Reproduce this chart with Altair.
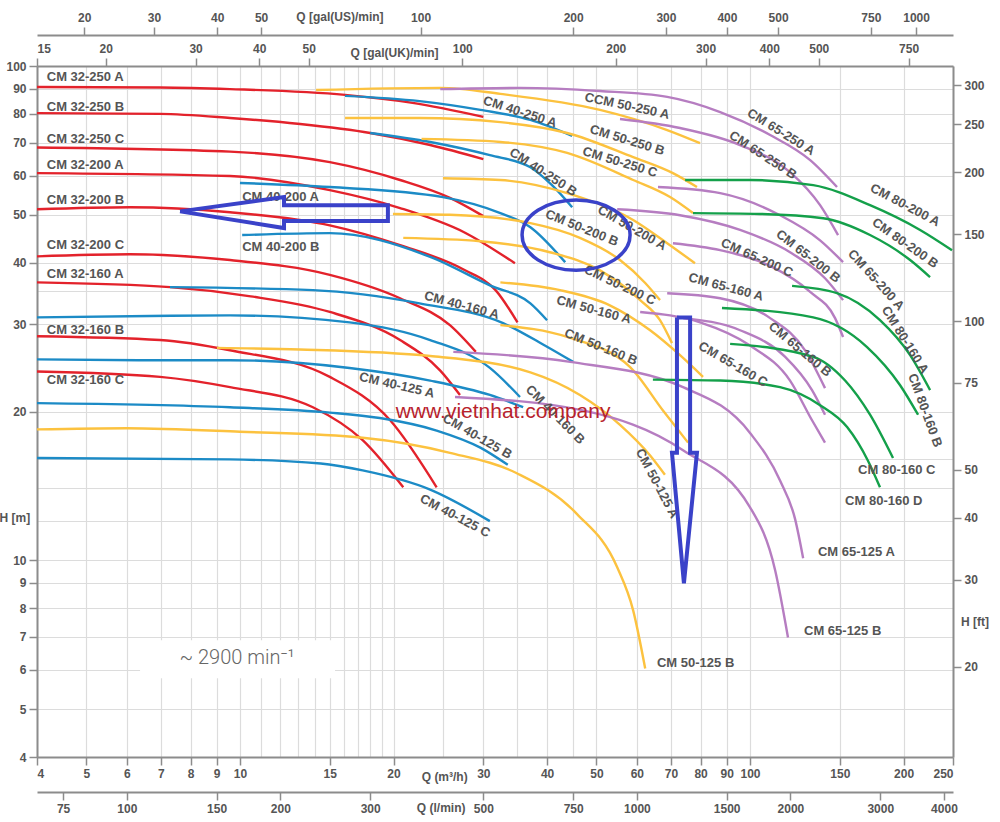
import altair as alt
import pandas as pd

# ---------------- colours ----------------
RED = "#e3222b"; BLUE = "#1c8bc6"; YELLOW = "#fcc23f"; PURPLE = "#b67dc1"; GREEN = "#14a04a"
ARROW = "#3a42c9"; TXT = "#555555"; AXIS = "#8c8c8c"; GRID = "#dcdcdc"

# ---------------- pump curves: name -> (Q m3/h list, H m list) ----------------
CM32 = {
    "CM 32-250 A": ([4, 6.97, 9.56, 16.07, 21.8, 30.0], [90.7, 90.5, 89.8, 87.4, 84.2, 78.9]),
    "CM 32-250 B": ([4, 6.97, 9.56, 13.12, 18.0, 23.6, 30.0], [80.3, 80.0, 78.5, 76.3, 73.2, 69.2, 64.8]),
    "CM 32-250 C": ([4, 9.56, 15.0, 20.6, 25.8, 30.0], [68.4, 67.1, 63.9, 58.8, 54.1, 49.7]),
    "CM 32-200 A": ([4, 9.56, 15.0, 20.6, 27.5, 34.6], [60.7, 59.9, 56.1, 51.6, 46.1, 39.9]),
    "CM 32-200 B": ([4, 6.09, 9.56, 15.0, 20.6, 27.5, 31.7, 35.0], [51.3, 51.8, 50.6, 47.6, 43.4, 38.7, 35.2, 30.3]),
    "CM 32-200 C": ([4, 6.09, 9.56, 15.0, 20.6, 25.8, 29.0], [41.2, 41.6, 40.5, 37.8, 33.9, 29.9, 26.4]),
    "CM 32-160 A": ([4, 7.29, 10.5, 15.0, 20.6, 24.7, 27.0], [36.5, 35.7, 34.2, 31.8, 27.9, 24.2, 21.6]),
    "CM 32-160 B": ([4, 6.97, 9.56, 15.0, 19.7, 24.3], [28.4, 27.9, 26.6, 23.5, 19.2, 14.05]),
    "CM 32-160 C": ([4, 6.97, 9.56, 13.9, 17.4, 20.9], [24.1, 23.5, 22.4, 20.4, 17.5, 14.05]),
}
CM40 = {
    "CM 40-250 A": ([16.07, 22.5, 29.6, 37.1, 44.8], [87.0, 84.9, 81.5, 77.8, 72.2]),
    "CM 40-250 B": ([18.0, 23.6, 30.9, 37.1, 40.9, 44.8], [73.2, 70.2, 66.0, 62.4, 57.4, 51.8]),
    "CM 40-200 A": ([10.0, 15.0, 25.0, 32.4, 37.1, 43.4], [58.0, 56.9, 54.3, 50.4, 47.2, 40.1]),
    "CM 40-200 B": ([10.1, 15.0, 23.6, 30.9, 37.1, 40.0], [45.5, 45.9, 41.1, 36.0, 33.1, 30.6]),
    "CM 40-160 A": ([7.29, 13.9, 22.5, 32.8, 39.6, 45.0], [35.7, 35.2, 33.1, 30.2, 27.2, 25.2]),
    "CM 40-160 B": ([4, 6.66, 9.56, 16.4, 23.6, 30.9, 35.4], [31.0, 31.2, 31.3, 30.3, 27.9, 24.5, 21.4]),
    "CM 40-125 A": ([4, 6.66, 9.56, 16.4, 23.6, 30.9, 35.9], [25.5, 25.4, 25.4, 24.5, 23.1, 21.6, 20.4]),
    "CM 40-125 B": ([4, 9.56, 15.0, 18.8, 24.3, 29.6, 33.5], [20.8, 20.4, 19.9, 19.4, 18.3, 16.9, 15.6]),
    "CM 40-125 C": ([4, 9.56, 14.4, 17.4, 23.6, 30.9], [16.1, 16.0, 15.7, 15.2, 13.9, 12.0]),
}
CM50 = {
    "CCM 50-250 A": ([14.1, 24.7, 32.4, 50.8, 68.8, 79.8], [89.4, 90.3, 87.8, 81.5, 74.2, 69.8]),
    "CM 50-250 B": ([16.07, 22.5, 32.4, 43.8, 59.0, 70.6, 78.7], [78.5, 78.5, 77.0, 73.2, 65.4, 60.7, 56.9]),
    "CM 50-250 C": ([22.7, 32.4, 43.8, 59.0, 69.7, 77.3], [71.2, 70.2, 66.7, 58.8, 54.3, 50.4]),
    "CM 50-200 A": ([25.0, 32.4, 43.8, 59.0, 68.8, 78.0], [59.3, 58.8, 55.3, 48.8, 43.8, 39.9]),
    "CM 50-200 B": ([19.95, 25.8, 37.1, 46.4, 55.6, 62.3, 66.6], [50.2, 50.0, 48.1, 44.9, 40.5, 36.4, 33.6]),
    "CM 50-200 C": ([20.9, 29.6, 40.5, 50.8, 60.9, 66.6, 70.3], [44.9, 44.2, 42.0, 38.6, 33.6, 30.6, 27.5]),
    "CM 50-160 A": ([32.4, 42.4, 53.1, 63.7, 72.9, 80.9], [36.5, 35.2, 32.8, 29.2, 26.0, 23.5]),
    "CM 50-160 B": ([32.4, 43.8, 58.2, 67.5, 75.6], [29.9, 28.3, 24.6, 20.1, 17.3]),
    "CM 50-125 A": ([9.01, 13.1, 23.6, 37.1, 46.4, 55.6, 63.7, 68.1], [26.9, 26.7, 25.9, 24.0, 21.6, 18.8, 16.3, 14.9]),
    "CM 50-125 B": ([4, 6.0, 10.0, 17.4, 25.8, 34.9, 45.8, 54.9, 59.0, 62.3], [18.4, 18.5, 18.2, 17.7, 16.5, 15.0, 12.4, 9.68, 7.92, 6.04]),
}
CM65 = {
    "CM 65-250 A": ([24.7, 35.4, 50.8, 68.8, 87.4, 109.5, 131.2, 148.1], [89.8, 90.3, 89.0, 86.6, 80.7, 72.5, 64.5, 56.9]),
    "CM 65-250 B": ([55.6, 72.9, 95.6, 119.8, 137.2, 148.8], [78.1, 74.9, 69.2, 61.0, 52.3, 45.5]),
    "CM 65-200 A": ([66.0, 87.4, 114.5, 137.2, 152.2], [56.9, 55.3, 49.9, 44.4, 40.1]),
    "CM 65-200 B": ([54.9, 72.9, 95.6, 119.8, 140.3, 152.2], [51.3, 49.9, 46.6, 42.0, 37.2, 33.6]),
    "CM 65-200 C": ([70.6, 87.4, 109.5, 131.2, 146.8, 152.2], [43.8, 42.4, 39.4, 34.9, 30.9, 28.3]),
    "CM 65-160 A": ([68.8, 87.4, 109.5, 128.2, 140.3], [34.7, 33.9, 30.9, 26.6, 22.3]),
    "CM 65-160 B": ([73.9, 95.6, 117.2, 132.3, 140.3], [30.9, 29.2, 25.8, 22.1, 19.7]),
    "CM 65-160 C": ([60.9, 79.8, 100.0, 119.8, 132.3, 140.3], [31.8, 30.3, 27.2, 23.1, 19.2, 17.3]),
    "CM 65-125 A": ([26.2, 44.4, 73.9, 100.0, 114.5, 122.6, 127.1], [26.4, 25.2, 22.4, 18.1, 14.5, 12.1, 10.1]),
    "CM 65-125 B": ([26.4, 47.0, 73.9, 100.0, 112.0, 118.7], [21.4, 20.1, 16.7, 12.8, 9.55, 6.98]),
}
CM80 = {
    "CM 80-200 A": ([74.6, 100.0, 133.0, 171.9, 215.5, 248.9], [58.8, 58.8, 57.4, 52.3, 46.6, 42.4]),
    "CM 80-200 B": ([77.3, 104.6, 139.1, 171.9, 206.0, 225.4], [50.4, 50.2, 49.2, 45.5, 40.5, 37.4]),
    "CM 80-160 A": ([120.9, 148.1, 179.8, 206.0, 225.4], [35.9, 34.7, 30.6, 26.0, 22.1]),
    "CM 80-160 B": ([88.1, 133.0, 169.6, 196.9, 213.5], [32.4, 31.0, 27.0, 22.6, 19.7]),
    "CM 80-160 C": ([91.4, 133.0, 153.6, 171.9, 190.7], [27.4, 25.8, 23.1, 19.7, 16.1]),
    "CM 80-160 D": ([64.5, 87.4, 114.5, 137.2, 155.0, 170.3, 179.8], [23.2, 23.1, 22.4, 20.6, 18.6, 15.9, 14.05]),
}
FAMILIES = [("CM 32", CM32), ("CM 40", CM40), ("CM 50", CM50), ("CM 65", CM65), ("CM 80", CM80)]
FAMILY_COLORS = [RED, BLUE, YELLOW, PURPLE, GREEN]

# ---------------- curve labels ----------------
LABELS_LEFT = [
    ("CM 32-250 A", 4.18, 95.0), ("CM 32-250 B", 4.18, 82.6), ("CM 32-250 C", 4.18, 71.2),
    ("CM 32-200 A", 4.18, 63.0), ("CM 32-200 B", 4.18, 53.6), ("CM 32-200 C", 4.18, 43.4),
    ("CM 32-160 A", 4.18, 37.9), ("CM 32-160 B", 4.18, 29.2), ("CM 32-160 C", 4.18, 23.2),
    ("CM 40-200 A", 10.1, 54.3), ("CM 40-200 B", 10.1, 43.0),
    ("CM 80-160 C", 162.9, 15.2), ("CM 80-160 D", 153.6, 13.2),
    ("CM 50-125 B", 65.7, 6.19), ("CM 65-125 A", 135.9, 10.4), ("CM 65-125 B", 127.6, 7.2),
]
LABELS_ROT = [
    ("CM 40-250 A", 35.4, 80.7, 18), ("CCM 50-250 A", 57.4, 83.0, 12), ("CM 50-250 B", 57.4, 70.8, 17),
    ("CM 50-250 C", 55.6, 63.9, 17), ("CM 40-250 B", 39.3, 61.0, 33), ("CM 65-250 A", 115.0, 73.5, 32),
    ("CM 65-250 B", 106.0, 66.0, 33), ("CM 50-200 B", 46.8, 47.0, 22), ("CM 50-200 A", 58.7, 47.0, 30),
    ("CM 50-200 C", 55.6, 36.0, 25), ("CM 40-160 A", 27.2, 32.8, 15), ("CM 50-160 A", 49.4, 32.1, 15),
    ("CM 50-160 B", 51.0, 27.0, 22), ("CM 65-200 C", 103.2, 40.9, 24), ("CM 65-200 B", 130.0, 41.2, 38),
    ("CM 65-200 A", 176.6, 36.9, 48), ("CM 65-160 A", 89.7, 35.7, 15), ("CM 65-160 B", 125.3, 26.7, 40),
    ("CM 65-160 C", 92.6, 24.9, 30), ("CM 80-200 A", 201.4, 52.3, 28), ("CM 80-200 B", 201.4, 43.8, 35),
    ("CM 80-160 A", 201.4, 27.9, 58), ("CM 80-160 B", 220.3, 20.1, 70), ("CM 40-125 A", 20.3, 22.6, 13),
    ("CM 40-125 B", 29.2, 17.8, 30), ("CM 40-125 C", 26.4, 12.3, 28), ("CM 40-160 B", 41.5, 19.7, 45),
    ("CM 50-125 A", 65.7, 14.3, 62),
]

# ---------------- axes ----------------
X_GRID = [4, 5, 6, 7, 8, 9, 10, 11, 12, 13, 14, 15, 16, 17, 18, 19, 20, 25, 30, 35, 40, 45, 50, 60, 70, 80, 90, 100, 150, 200, 250]
X_TICKS = [4, 5, 6, 7, 8, 9, 10, 15, 20, 30, 40, 50, 60, 70, 80, 90, 100, 150, 200, 250]
Y_GRID = [4, 5, 6, 7, 8, 9, 10, 12, 14, 16, 20, 30, 35, 40, 50, 60, 70, 80, 90, 100]
Y_TICKS = [4, 5, 6, 7, 8, 9, 10, 20, 30, 40, 50, 60, 70, 80, 90, 100]
LPM_LABELS = [75, 100, 150, 200, 300, 500, 750, 1000, 1500, 2000, 3000, 4000]
UK_LABELS = [15, 20, 30, 40, 50, 100, 200, 300, 400, 500, 750]
UK_POS = [4.0, 5.455, 8.183, 10.91, 13.64, 27.28, 54.55, 81.83, 109.1, 136.4, 204.6]
US_LABELS = [20, 30, 40, 50, 100, 200, 300, 400, 500, 750, 1000]
US_POS = [4.95, 6.78, 9.02, 11.0, 22.6, 45.0, 68.4, 90.1, 113.5, 172.5, 211.6]
FT_LABELS = [20, 30, 40, 50, 75, 100, 150, 200, 250, 300]

ARROW_LEFT_Q = [7.63, 12.2, 12.2, 19.5, 19.5, 12.2, 12.2, 7.63]
ARROW_LEFT_H = [50.8, 54.3, 52.3, 52.3, 48.6, 48.6, 47.0, 50.8]
ARROW_DOWN_Q = [71.9, 76.3, 76.3, 78.7, 74.2, 70.3, 71.9, 71.9]
ARROW_DOWN_H = [31.0, 31.0, 16.5, 16.5, 8.98, 16.5, 16.5, 31.0]

rows = []
for fam, curves in FAMILIES:
    for name, (qs, hs) in curves.items():
        for i, (q, h) in enumerate(zip(qs, hs)):
            rows.append({"fam": fam, "series": name, "i": i, "Q": q, "H": h})
curves_df = pd.DataFrame(rows)

XS = alt.Scale(type="log", domain=[4, 250], nice=False)
YS = alt.Scale(type="log", domain=[4, 100], nice=False)
FONT = "Liberation Sans"

def X(field="Q", axis=None):
    return alt.X(f"{field}:Q", scale=XS, axis=axis, title=None)

def Y(field="H", axis=None):
    return alt.Y(f"{field}:Q", scale=YS, axis=axis, title=None)

base_axis = dict(labelFont=FONT, labelFontSize=12, labelFontWeight="bold", labelColor=TXT,
                 domainColor=AXIS, domainWidth=2, tickColor=AXIS, tickWidth=1.5, tickSize=8,
                 grid=False, labelPadding=3)

dummy = pd.DataFrame({"Q": [10], "H": [10]})

def axis_layer_x(axis):
    return alt.Chart(dummy).mark_point(opacity=0).encode(x=X(axis=axis), y=Y())

def axis_layer_y(axis):
    return alt.Chart(dummy).mark_point(opacity=0).encode(x=X(), y=Y(axis=axis))

def lookup_expr(pos, labels):
    return "[" + ",".join(f"'{l}'" for l in labels) + "][indexof([" + ",".join(str(p) for p in pos) + "], datum.value)]"

grid_x = axis_layer_x(alt.Axis(values=X_GRID, grid=True, gridColor=GRID, gridWidth=1.2, labels=False,
                               ticks=False, domain=False, orient="bottom"))
grid_y = axis_layer_y(alt.Axis(values=Y_GRID, grid=True, gridColor=GRID, gridWidth=1.2, labels=False,
                               ticks=False, domain=False, orient="left"))
ax_bottom = axis_layer_x(alt.Axis(values=X_TICKS, orient="bottom", format="d", **base_axis))
lpm_pos = [v * 0.06 for v in LPM_LABELS]
ax_lpm = axis_layer_x(alt.Axis(values=lpm_pos, orient="bottom", offset=35,
                               labelExpr=lookup_expr(lpm_pos, LPM_LABELS), **base_axis))
ax_uk = axis_layer_x(alt.Axis(values=UK_POS, orient="top", offset=0,
                              labelExpr=lookup_expr(UK_POS, UK_LABELS), **base_axis))
ax_us = axis_layer_x(alt.Axis(values=US_POS, orient="top", offset=31,
                              labelExpr=lookup_expr(US_POS, US_LABELS), **base_axis))
ax_left = axis_layer_y(alt.Axis(values=Y_TICKS, orient="left", format="d", **base_axis))
ft_pos = [v * 0.3048 for v in FT_LABELS]
ax_ft = axis_layer_y(alt.Axis(values=ft_pos, orient="right", labelExpr=lookup_expr(ft_pos, FT_LABELS), **base_axis))

box = alt.Chart(pd.DataFrame({"Q": [6.37], "Q2": [15.36], "H": [5.77], "H2": [6.89]})).mark_rect(
    color="white").encode(x=X(), x2="Q2:Q", y=Y(), y2="H2:Q")

lines = alt.Chart(curves_df).mark_line(strokeWidth=2.4, interpolate="monotone").encode(
    x=X(), y=Y(),
    color=alt.Color("fam:N", scale=alt.Scale(domain=[f for f, _ in FAMILIES], range=FAMILY_COLORS), legend=None),
    detail="series:N", order="i:Q")

lab_left = alt.Chart(pd.DataFrame(LABELS_LEFT, columns=["t", "Q", "H"])).mark_text(
    align="left", baseline="middle", font=FONT, fontSize=13, fontWeight="bold", color=TXT).encode(
    x=X(), y=Y(), text="t:N")
lab_rot = alt.Chart(pd.DataFrame(LABELS_ROT, columns=["t", "Q", "H", "a"])).mark_text(
    align="center", baseline="middle", font=FONT, fontSize=13, fontWeight="bold", color=TXT).encode(
    x=X(), y=Y(), text="t:N", angle=alt.Angle("a:Q", scale=None))

TITLES = [("Q [gal(US)/min]", 15.7, 125.7), ("Q [gal(UK)/min]", 20.1, 106.2), ("Q (m³/h)", 25.2, 3.64),
          ("Q (l/min)", 24.8, 3.15), ("H [m]", 3.62, 12.2), ("H [ft]", 276, 7.49)]
titles = alt.Chart(pd.DataFrame(TITLES, columns=["t", "Q", "H"])).mark_text(
    align="center", baseline="middle", font=FONT, fontSize=12, fontWeight="bold", color=TXT).encode(
    x=X(), y=Y(), text="t:N")

speed = alt.Chart(pd.DataFrame({"t": ["~ 2900 min⁻¹"], "Q": [9.87], "H": [6.33]})).mark_text(
    align="center", baseline="middle", font="Roboto", fontSize=20, fontWeight=300, color="#666666").encode(
    x=X(), y=Y(), text="t:N")
water = alt.Chart(pd.DataFrame({"t": ["www.vietnhat.company"], "Q": [32.8], "H": [20.0]})).mark_text(
    align="center", baseline="middle", font="Liberation Sans", fontSize=21, color="#b8222c").encode(
    x=X(), y=Y(), text="t:N")

arrows_df = pd.DataFrame(
    [{"k": "left", "i": i, "Q": q, "H": h} for i, (q, h) in enumerate(zip(ARROW_LEFT_Q, ARROW_LEFT_H))] +
    [{"k": "down", "i": i, "Q": q, "H": h} for i, (q, h) in enumerate(zip(ARROW_DOWN_Q, ARROW_DOWN_H))])
arrows = alt.Chart(arrows_df).mark_line(color=ARROW, strokeWidth=4, strokeJoin="miter").encode(
    x=X(), y=Y(), detail="k:N", order="i:Q")
ellipse = alt.Chart(pd.DataFrame({"Q": [45.6], "H": [45.5]})).mark_point(
    shape="M -1 0 A 1 0.65 0 1 0 1 0 A 1 0.65 0 1 0 -1 0 Z", size=11664, filled=False,
    color=ARROW, strokeWidth=3.5, opacity=1).encode(x=X(), y=Y())

chart = alt.layer(
    grid_x, grid_y, box, lines, ax_bottom, ax_lpm, ax_uk, ax_us, ax_left, ax_ft,
    lab_left, lab_rot, titles, speed, water, arrows, ellipse
).resolve_axis(x="independent", y="independent").properties(
    width=916, height=691,
    padding={"left": 37, "top": 66, "right": 47, "bottom": 65},
    autosize=alt.AutoSizeParams(type="none"),
    background="white",
).configure_view(stroke=None)

chart.save("out.html", embed_options={"renderer": "svg", "actions": False})
